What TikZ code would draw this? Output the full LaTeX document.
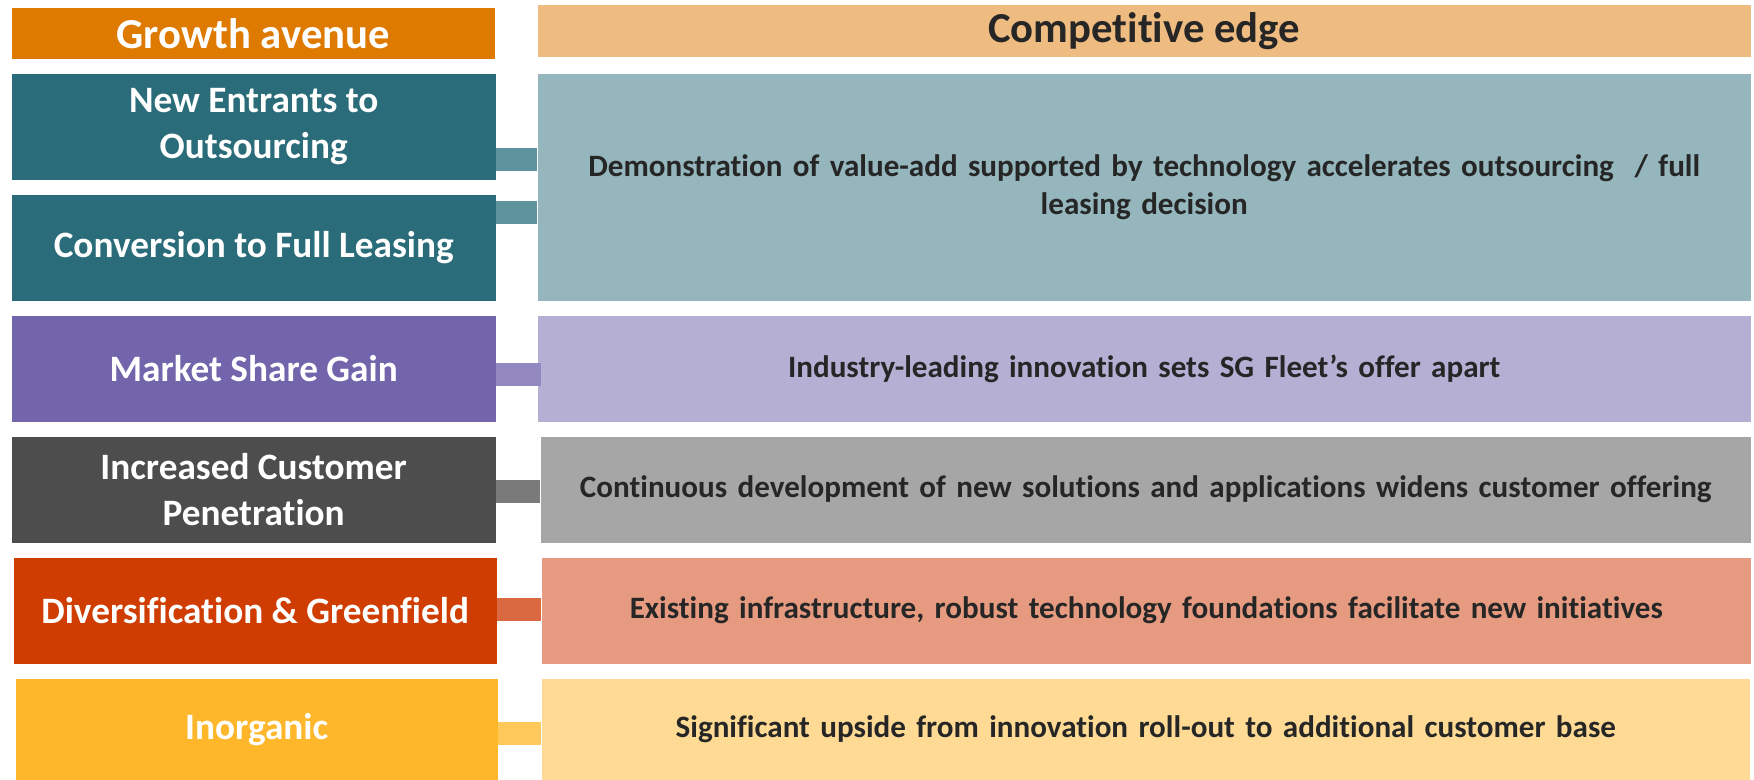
\documentclass[tikz,border=0pt]{standalone}
\usepackage{fontspec}
\setmainfont{Carlito}[RawFeature={-liga;-dlig;-clig}]
\definecolor{gaorange}{RGB}{222,122,0}
\definecolor{cepeach}{RGB}{238,187,128}
\definecolor{tealdark}{RGB}{42,108,121}
\definecolor{teallight}{RGB}{148,182,188}
\definecolor{tealmid}{RGB}{94,146,157}
\definecolor{purpdark}{RGB}{114,101,171}
\definecolor{purplight}{RGB}{182,175,212}
\definecolor{purpmid}{RGB}{148,136,192}
\definecolor{greydark}{RGB}{77,77,77}
\definecolor{greylight}{RGB}{166,166,166}
\definecolor{greymid}{RGB}{122,122,122}
\definecolor{rustdark}{RGB}{207,61,2}
\definecolor{rustlight}{RGB}{230,155,128}
\definecolor{rustmid}{RGB}{218,105,65}
\definecolor{golddark}{RGB}{254,183,42}
\definecolor{goldlight}{RGB}{254,218,148}
\definecolor{goldmid}{RGB}{254,200,90}
\definecolor{inkdark}{RGB}{38,38,38}
\begin{document}
\begin{tikzpicture}[x=0.1mm,y=-0.1mm,
  cell/.style={rectangle, inner sep=0pt, anchor=north west, align=center},
  headcell/.style={cell, font=\fontsize{12.15pt}{14.2pt}\selectfont\bfseries},
  avbox/.style={cell, text=white, minimum width=48.4mm, minimum height=10.6mm,
    font=\fontsize{10.6pt}{12.9pt}\selectfont\bfseries},
  edgecell/.style={cell, text=inkdark, minimum width=121mm, minimum height=10.6mm,
    text width=119mm, font=\fontsize{8.85pt}{10.9pt}\selectfont\bfseries},
  bridge/.style={line width=2.3mm}
]
\path[use as bounding box] (0,0) rectangle (1754,780);

% column headers
\node[headcell, fill=gaorange, text=white, minimum width=48.3mm, minimum height=5.1mm] (ga) at (11,7) {Growth avenue};
\node[headcell, fill=cepeach, text=inkdark, minimum width=121.3mm, minimum height=5.2mm] (ce) at (537,4) {Competitive edge};

% growth avenues
\node[avbox, fill=tealdark] (ne) at (11,73) {New Entrants to\\Outsourcing};
\node[avbox, fill=tealdark] (cv) at (11,194) {Conversion to Full Leasing};
\node[avbox, fill=purpdark] (ms) at (11,315) {Market Share Gain};
\node[avbox, fill=greydark] (ic) at (11,436) {Increased Customer\\Penetration};
\node[avbox, fill=rustdark, minimum width=48.3mm] (dg) at (13,557) {Diversification \& Greenfield};
\node[avbox, fill=golddark, minimum width=48.2mm, minimum height=10.2mm] (io) at (15,678) {Inorganic};

% competitive edges
\node[edgecell, fill=teallight, minimum width=121.3mm, minimum height=22.7mm] (tr) at (537,73)
  {Demonstration of value-add supported by technology accelerates outsourcing~ / full\\leasing decision};
\node[edgecell, fill=purplight, minimum width=121.3mm] (pr) at (537,315)
  {Industry-leading innovation sets SG Fleet’s offer apart};
\node[edgecell, fill=greylight] (gr) at (540,436)
  {Continuous development of new solutions and applications widens customer offering};
\node[edgecell, fill=rustlight, minimum width=120.9mm] (sr) at (541,557)
  {Existing infrastructure, robust technology foundations facilitate new initiatives};
\node[edgecell, fill=goldlight, minimum width=120.8mm, minimum height=10.2mm] (yr) at (541,678)
  {Significant upside from innovation roll-out to additional customer base};

% bridges between the columns
\draw[bridge, tealmid] (ne.east |- 0,159.5) -- (tr.west |- 0,159.5);
\draw[bridge, tealmid] (cv.east |- 0,212.5) -- (tr.west |- 0,212.5);
\draw[bridge, purpmid] (ms.east |- 0,374.5) -- ([xshift=0.4mm]pr.west |- 0,374.5);
\draw[bridge, greymid] (ic.east |- 0,492) -- (gr.west |- 0,492);
\draw[bridge, rustmid] (dg.east |- 0,609.5) -- (sr.west |- 0,609.5);
\draw[bridge, goldmid] (io.east |- 0,733.5) -- (yr.west |- 0,733.5);
\end{tikzpicture}
\end{document}
